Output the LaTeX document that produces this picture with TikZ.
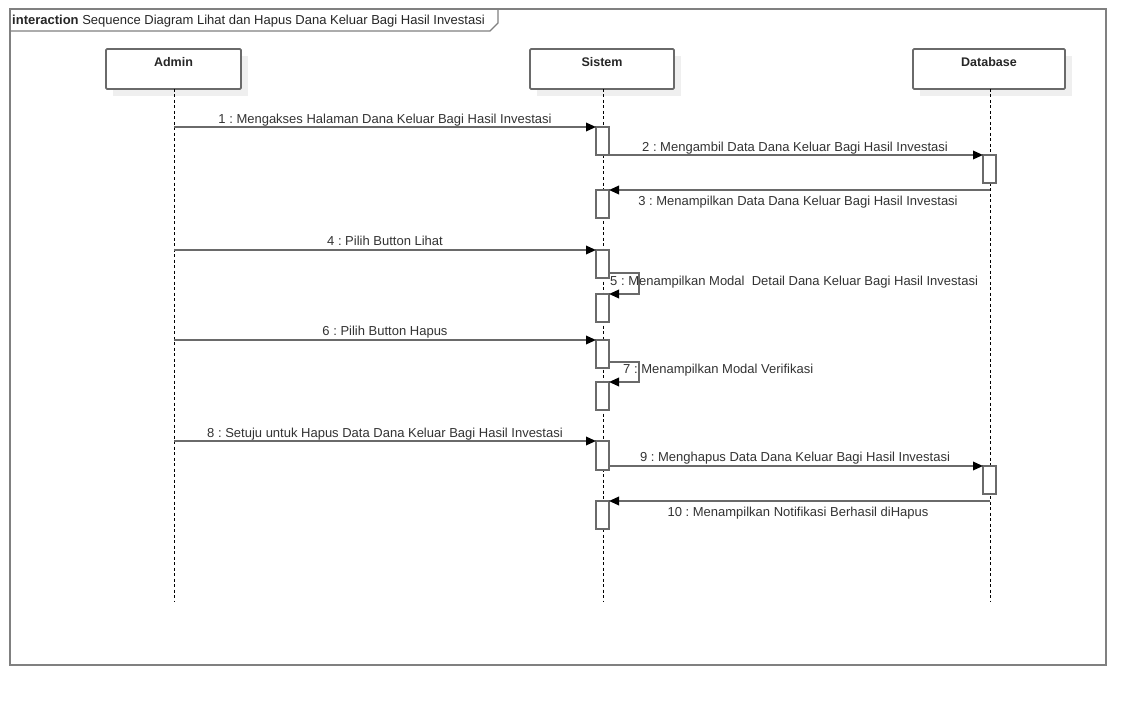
\documentclass[tikz,border=0pt]{standalone}
\usepackage{fontspec}
\setmainfont{Liberation Sans}
\frenchspacing
\usetikzlibrary{arrows.meta,calc}
\definecolor{lineg}{HTML}{6A6A6A}
\definecolor{frameg}{HTML}{808080}
\definecolor{txtg}{HTML}{333333}
\definecolor{shadowg}{HTML}{EFEFEF}
\tikzset{
  actor/.style={draw=lineg,line width=1.8pt,fill=white,rounded corners=1.2pt,minimum width=#1,minimum height=40pt,inner sep=0pt,outer sep=0pt},
  actorlbl/.style={font=\fontsize{12.5}{14}\selectfont\bfseries,text=black!85,inner sep=0pt},
  act/.style={draw=lineg,line width=1.8pt,fill=white,minimum width=13pt,minimum height=28pt,inner sep=0pt,outer sep=0pt},
  lifel/.style={draw=black,line width=0.8pt,dash pattern=on 3pt off 2.5pt},
  msg/.style={draw=lineg,line width=1.8pt,-{Triangle[length=10pt,width=8.5pt,fill=black,color=black]}},
  mlbl/.style={font=\fontsize{13}{15}\selectfont,text=txtg,inner sep=0pt,anchor=base},
  mlblw/.style={font=\fontsize{13}{15}\selectfont,text=txtg,inner sep=0pt,anchor=base west},
}
\begin{document}
\begin{tikzpicture}[x=1pt,y=-1pt]
\useasboundingbox (0,0) rectangle (1146,706);
\fill[white] (0,0) rectangle (1146,706);
% frame
\draw[frameg,line width=1.8pt] (10,9) rectangle (1106,665);
\draw[frameg,line width=1.4pt] (10,31) -- (490,31) -- (498,23) -- (498,9);
\node[font=\fontsize{13}{15}\selectfont,text=black!85,inner sep=0pt,anchor=base west] (title) at (12,24.5) {\textbf{interaction} Sequence Diagram Lihat dan Hapus Dana Keluar Bagi Hasil Investasi};
% shadows
\fill[shadowg] (113,56) rectangle (248,96);
\fill[shadowg] (537,56) rectangle (681,96);
\fill[shadowg] (920,56) rectangle (1072,96);
% actors
\node[actor=135pt] (admin) at (173.5,69) {};
\node[actor=144pt] (sistem) at (602,69) {};
\node[actor=152pt] (database) at (989,69) {};
\node[actorlbl] (adminl) at (173.5,62) {Admin};
\node[actorlbl] (sisteml) at (602,62) {Sistem};
\node[actorlbl] (databasel) at (989,62) {Database};
% lifelines
\coordinate (adminend) at (174,602);
\coordinate (sistemend) at (603,602);
\coordinate (databaseend) at (990,602);
\draw[lifel] (admin.south -| adminend) -- (adminend);
\draw[lifel] (sistem.south -| sistemend) -- (sistemend);
\draw[lifel] (database.south -| databaseend) -- (databaseend);
% activations
\node[act] (a1) at (602.5,141) {};
\node[act] (a3) at (602.5,204) {};
\node[act] (a4) at (602.5,264) {};
\node[act] (a5) at (602.5,308) {};
\node[act] (a6) at (602.5,354) {};
\node[act] (a7) at (602.5,396) {};
\node[act,minimum height=29pt] (a8) at (602.5,455.5) {};
\node[act] (a10) at (602.5,515) {};
\node[act] (d2) at (989.5,169) {};
\node[act] (d9) at (989.5,480) {};
% messages
\draw[msg] (a1.north west -| adminend) -- (a1.north west);
\node[mlbl] (l1) at (385,123.5) {1 : Mengakses Halaman Dana Keluar Bagi Hasil Investasi};
\draw[msg] (a1.south east) -- (a1.south east -| d2.west);
\node[mlbl] (l2) at (795,151.5) {2 : Mengambil Data Dana Keluar Bagi Hasil Investasi};
\draw[msg] (a3.north east -| databaseend) -- (a3.north east);
\node[mlbl] (l3) at (798,205.5) {3 : Menampilkan Data Dana Keluar Bagi Hasil Investasi};
\draw[msg] (a4.north west -| adminend) -- (a4.north west);
\node[mlbl] (l4) at (385,245.5) {4 : Pilih Button Lihat};
\draw[msg] ([yshift=5pt]a4.south east) -- ++(30,0) |- (a5.north east);
\node[mlblw] (l5) at (610,285.5) {5 : Menampilkan Modal\ \ Detail Dana Keluar Bagi Hasil Investasi};
\draw[msg] (a6.north west -| adminend) -- (a6.north west);
\node[mlbl] (l6) at (385,335.5) {6 : Pilih Button Hapus};
\draw[msg] ([yshift=6pt]a6.south east) -- ++(30,0) |- (a7.north east);
\node[mlblw] (l7) at (623,373.5) {7 : Menampilkan Modal Verifikasi};
\draw[msg] (a8.north west -| adminend) -- (a8.north west);
\node[mlbl] (l8) at (385,437.5) {8 : Setuju untuk Hapus Data Dana Keluar Bagi Hasil Investasi};
\draw[msg] (d9.north west -| a8.east) -- (d9.north west);
\node[mlbl] (l9) at (795,461.5) {9 : Menghapus Data Dana Keluar Bagi Hasil Investasi};
\draw[msg] (a10.north east -| databaseend) -- (a10.north east);
\node[mlbl] (l10) at (798,516.5) {10 : Menampilkan Notifikasi Berhasil diHapus};
\end{tikzpicture}
\end{document}
